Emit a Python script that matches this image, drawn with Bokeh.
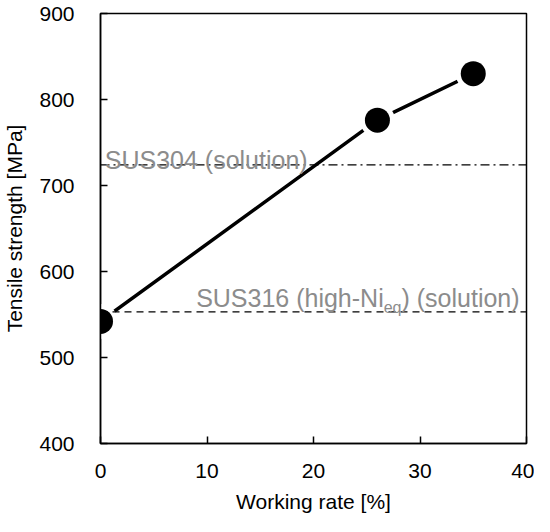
from bokeh.plotting import figure
from bokeh.models import Range1d, SingleIntervalTicker, ColumnDataSource, Span, Label
from bokeh.embed import file_html
from bokeh.resources import INLINE

# data
working_rate = [0, 26, 35]
tensile_strength = [542, 776, 830]
ref_names = ["SUS304 (solution)", "SUS316 (high-Ni_eq) (solution)"]
ref_values = [724, 553]

FONT = "Liberation Sans"
GREY = "#8c8c8c"

p = figure(width=534, height=516, output_backend="svg", toolbar_location=None,
           x_range=Range1d(0, 40), y_range=Range1d(400, 900),
           min_border_left=94, min_border_right=8, min_border_top=13, min_border_bottom=73)

p.xgrid.visible = False
p.ygrid.visible = False
p.outline_line_color = "black"
p.outline_line_width = 1.5
p.background_fill_color = "white"
p.border_fill_color = "white"

p.xaxis.ticker = SingleIntervalTicker(interval=10)
p.yaxis.ticker = SingleIntervalTicker(interval=100)
for ax in (p.xaxis, p.yaxis):
    ax.axis_line_color = "black"
    ax.axis_line_width = 1.5
    ax.major_tick_line_color = "black"
    ax.major_tick_line_width = 1.5
    ax.major_tick_in = 7
    ax.major_tick_out = 0
    ax.minor_tick_line_color = None
    ax.major_label_text_font = FONT
    ax.major_label_text_font_size = "21px"
    ax.major_label_text_color = "black"
    ax.axis_label_text_font = FONT
    ax.axis_label_text_font_size = "21px"
    ax.axis_label_text_font_style = "normal"
    ax.axis_label_text_color = "black"

p.xaxis.axis_label = "Working rate [%]"
p.yaxis.axis_label = "Tensile strength [MPa]"
p.xaxis.major_label_standoff = 16
p.yaxis.major_label_standoff = 22
p.xaxis.axis_label_standoff = 9
p.yaxis.axis_label_standoff = 10

# reference lines
p.add_layout(Span(location=ref_values[0], dimension="width", line_color="black",
                  line_width=1.3, line_dash="9 4 2 4"))
p.add_layout(Span(location=ref_values[1], dimension="width", line_color="black",
                  line_width=1.3, line_dash="7 5"))

src = ColumnDataSource(dict(x=working_rate, y=tensile_strength))
p.line("x", "y", source=src, line_color="black", line_width=3.5)
p.scatter("x", "y", source=src, size=35, fill_color="white", line_color=None)
p.scatter("x", "y", source=src, size=25, fill_color="black", line_color=None)

# labels
p.add_layout(Label(x=0.4, y=ref_values[0], y_offset=5, text=ref_names[0],
                   text_font=FONT, text_font_size="25px", text_color=GREY,
                   text_baseline="alphabetic", text_align="left"))

main, rest = ref_names[1].split("_eq")
anchor_x = 39.35
w_rest = 4.723 * 25
w_sub = 1.112 * 16
p.add_layout(Label(x=anchor_x, y=ref_values[1], y_offset=14, text=rest,
                   text_font=FONT, text_font_size="25px", text_color=GREY,
                   text_baseline="alphabetic", text_align="right"))
p.add_layout(Label(x=anchor_x, y=ref_values[1], x_offset=-w_rest, y_offset=4, text="eq",
                   text_font=FONT, text_font_size="16px", text_color=GREY,
                   text_baseline="alphabetic", text_align="right"))
p.add_layout(Label(x=anchor_x, y=ref_values[1], x_offset=-w_rest - w_sub, y_offset=14, text=main,
                   text_font=FONT, text_font_size="25px", text_color=GREY,
                   text_baseline="alphabetic", text_align="right"))

open("out.html", "w").write(file_html(p, INLINE))
